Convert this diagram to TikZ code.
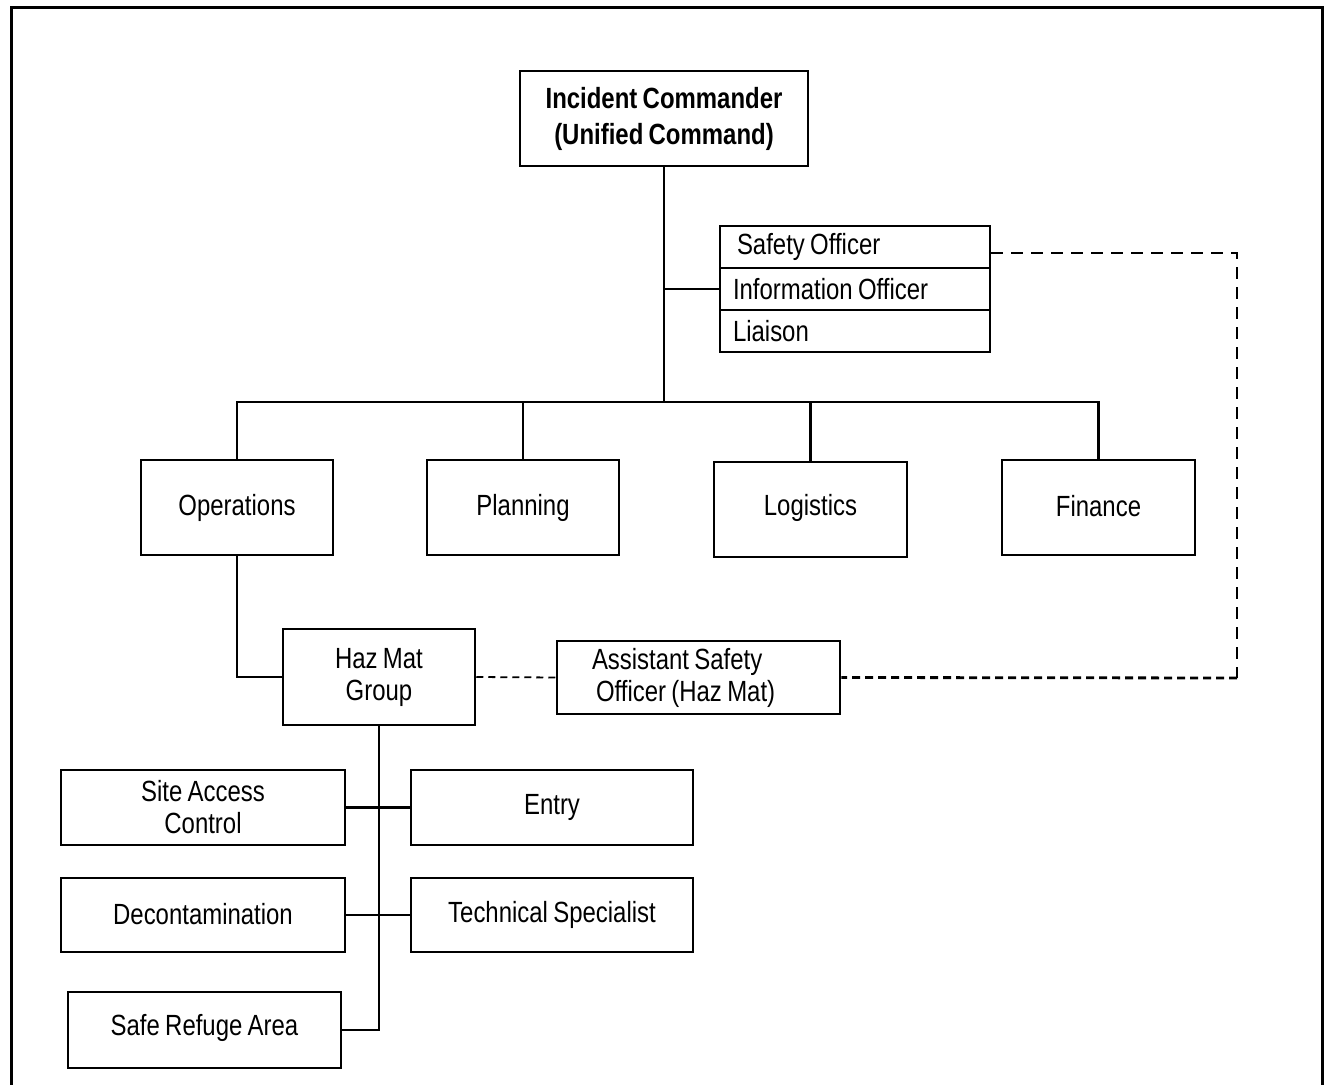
\documentclass[tikz,border=0pt]{standalone}
\usepackage{fontspec}
\setmainfont{Liberation Sans}[FakeStretch=0.82,WordSpace=0.8]

\begin{document}
\begin{tikzpicture}[x=0.5pt,y=-0.5pt,
  box/.style={draw,line width=1.25pt,inner sep=0pt,align=center,
    font=\fontsize{14.6}{16}\selectfont},
  row/.style={box,minimum width=135pt,minimum height=21pt,text width=122pt,align=flush left},
  link/.style={line width=1.25pt},
  dashlink/.style={line width=1.2pt,dash pattern=on 6pt off 4pt}]
  \useasboundingbox (0,0) rectangle (1329,1085);
  % frame
  \draw[line width=1.5pt] (11,1095) -- (11,8) -- (1322,8) -- (1322,1095);

  % command
  \node[box,minimum width=144pt,minimum height=47.5pt,
    font=\bfseries\fontsize{14.6}{18}\selectfont] (ic) at (664,118.5)
    {Incident Commander\\(Unified Command)};
  \node[row] (so) at (855,247) {\hspace*{2pt}Safety Officer};
  \node[row] (info) at (855,289) {Information Officer};
  \node[row] (liaison) at (855,331) {Liaison};

  % sections
  \node[box,minimum width=96pt,minimum height=47.5pt] (ops) at (237,507.5) {\raisebox{1.5pt}{Operations}};
  \node[box,minimum width=96pt,minimum height=47.5pt] (plan) at (523,507.5) {\raisebox{1.5pt}{Planning}};
  \node[box,minimum width=96.5pt,minimum height=47.5pt] (log) at (810.5,509.5) {\raisebox{4.5pt}{Logistics}};
  \node[box,minimum width=96.5pt,minimum height=47.5pt] (fin) at (1098.5,507.5) {\raisebox{1.5pt}{Finance}};

  % haz mat group
  \node[box,minimum width=96pt,minimum height=48pt] (hm) at (379,677) {Haz Mat\\Group};
  \node[box,minimum width=141.5pt,minimum height=36.5pt,inner xsep=17.5pt,
    text width=106.5pt,align=flush left] (asst) at (698.5,677.5)
    {Assistant Safety\\\hspace*{2pt}Officer (Haz Mat)};
  \node[box,minimum width=142pt,minimum height=37.5pt] (sac) at (203,807.5) {Site Access\\Control};
  \node[box,minimum width=141pt,minimum height=37.5pt] (entry) at (552,807.5) {\raisebox{2.5pt}{Entry}};
  \node[box,minimum width=142pt,minimum height=37pt] (decon) at (203,915) {\raisebox{1.5pt}{Decontamination}};
  \node[box,minimum width=141pt,minimum height=37pt] (tech) at (552,915) {\raisebox{1.5pt}{Technical Specialist}};
  \node[box,minimum width=136.5pt,minimum height=38pt] (refuge) at (204.5,1030) {\raisebox{5pt}{Safe Refuge Area}};

  \coordinate (bus) at (664,402);
  \coordinate (dashbot) at (1237,678);

  % solid connectors
  \draw[link] (ic.south) -- (bus);
  \draw[link] (ic.south |- info.west) -- (info.west);
  \draw[link] (ops.north) -- (ops.north |- bus) -- (fin.north |- bus) -- (fin.north);
  \foreach \sec in {plan,log}
    \draw[link] (\sec.north) -- (\sec.north |- bus);
  \draw[link] (ops.south) |- (hm.west);
  \draw[link] (hm.south) |- (refuge.east);
  \draw[link] (sac.east) -- (entry.west);
  \draw[link] (decon.east) -- (tech.west);

  % dashed connectors
  \draw[dashlink,line width=0.9pt,dash pattern=on 3.5pt off 2.5pt] (hm.east) -- (asst.west);
  \draw[dashlink] ([yshift=-3pt]so.east) -| (dashbot);
  \draw[dashlink,line width=1.4pt,dash pattern=on 4pt off 2.5pt] (dashbot) -- (asst.east);
\end{tikzpicture}
\end{document}
